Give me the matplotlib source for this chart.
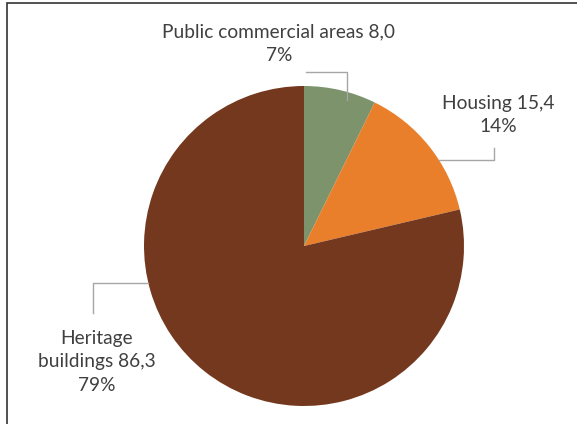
import numpy as np
import matplotlib.pyplot as plt
from matplotlib.patches import Rectangle

# data
categories = ['Public commercial areas', 'Housing', 'Heritage\nbuildings']
values = [8.0, 15.4, 86.3]
colors = ['#7D936C', '#E97F2A', '#74381F']


def main():
    W, H = 577, 424
    fig = plt.figure(figsize=(W / 100, H / 100), dpi=100)
    ax = fig.add_axes([0, 0, 1, 1])

    cx, cy, r = 304, H - 246, 160
    ax.pie(values, colors=colors, startangle=90, counterclock=False,
           center=(cx, cy), radius=r, frame=True,
           wedgeprops=dict(linewidth=0))
    ax.set_xlim(0, W)
    ax.set_ylim(0, H)
    ax.set_aspect('equal')
    ax.axis('off')

    # outer frame (right/bottom cut off as in the source)
    ax.add_patch(Rectangle((7, -20), W + 20, H - 3 + 20, fill=False,
                           edgecolor='#333333', linewidth=1.2, clip_on=False))

    total = sum(values)
    pct = [100 * v / total for v in values]
    labels = ['{} {}\n{:.0f}%'.format(c, ('%.1f' % v).replace('.', ','), p)
              for c, v, p in zip(categories, values, pct)]

    txt = dict(ha='center', va='center', fontsize=13.8, color='#404040',
               family=['Lato', 'DejaVu Sans'], linespacing=1.45)
    ax.text(279, H - 43.5, labels[0], **txt)
    ax.text(498, H - 115, labels[1], **txt)
    ax.text(97, H - 362, labels[2], **txt)

    # leader lines
    lc = dict(color='#A6A6A6', linewidth=1.0)
    ax.plot([306, 347, 347], [H - 72, H - 72, H - 100], **lc)
    ax.plot([494, 494, 439], [H - 148, H - 160, H - 160], **lc)
    ax.plot([148, 93, 93], [H - 283, H - 283, H - 313], **lc)

    fig.savefig('out.png', dpi=100)


if __name__ == "__main__":
    main()
